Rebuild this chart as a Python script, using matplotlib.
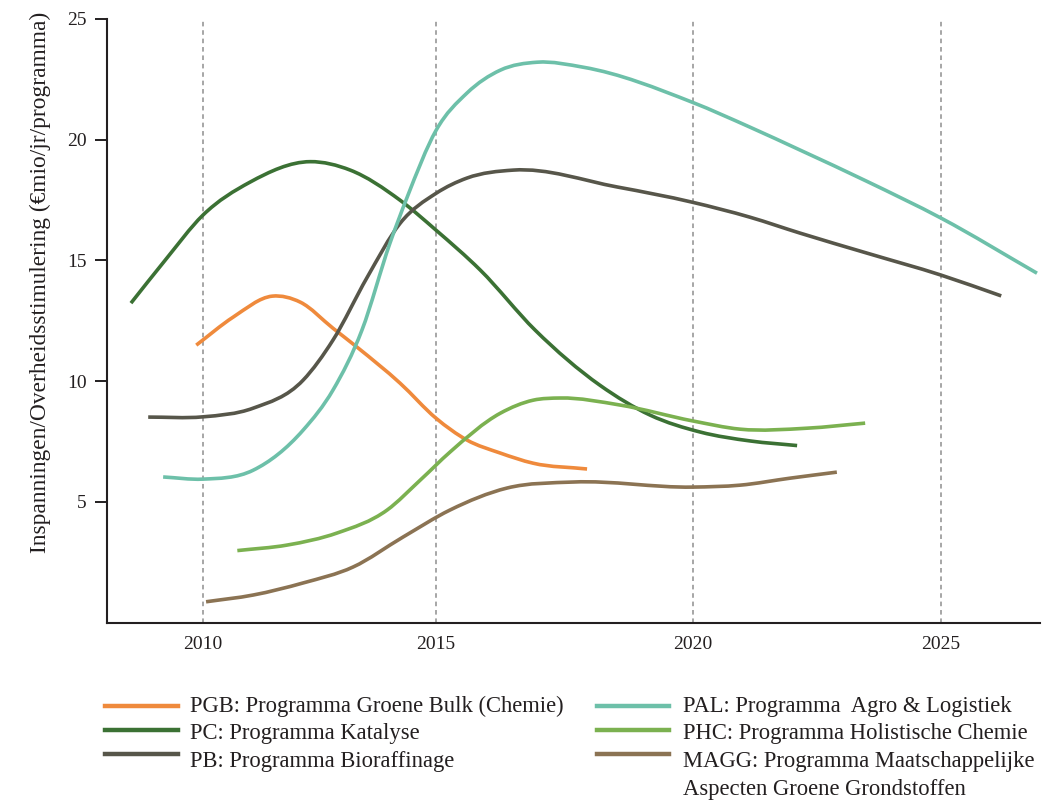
import numpy as np
import matplotlib.pyplot as plt
from matplotlib.lines import Line2D
from matplotlib.path import Path
from matplotlib.patches import PathPatch

plt.rcParams['font.family'] = ['Liberation Serif', 'DejaVu Serif']

# -----------------------------
# series (year, €mio per year per programme)
# -----------------------------
pgb_year = [2009.86, 2010.65, 2011.49, 2012.09, 2012.79, 2013.31, 2014.23,
            2015.00, 2015.60, 2016.25, 2016.89, 2017.94]
pgb_val = [11.49, 12.65, 13.52, 13.27, 12.19, 11.40, 9.91,
           8.46, 7.56, 7.02, 6.60, 6.36]

pc_year = [2008.46, 2009.19, 2010.00, 2011.01, 2012.30, 2013.16, 2014.23,
           2015.00, 2015.86, 2016.93, 2018.19, 2019.17, 2020.15, 2021.16, 2022.10]
pc_val = [13.23, 15.00, 16.87, 18.24, 19.09, 18.74, 17.49,
          16.25, 14.60, 12.11, 9.83, 8.59, 7.89, 7.52, 7.33]

pb_year = [2008.83, 2010.00, 2011.08, 2012.15, 2012.79, 2013.52, 2014.23,
           2015.00, 2015.60, 2016.50, 2018.53, 2019.99, 2021.15, 2022.16,
           2023.51, 2025.00, 2026.21]
pb_val = [8.51, 8.52, 8.88, 10.04, 11.70, 14.29, 16.54,
          17.78, 18.41, 18.74, 18.04, 17.41, 16.79, 16.13,
          15.30, 14.39, 13.53]

pal_year = [2009.15, 2010.00, 2011.08, 2012.15, 2012.79, 2013.41, 2014.01,
            2014.38, 2015.00, 2015.60, 2016.25, 2016.97, 2017.87, 2019.99,
            2021.15, 2022.16, 2023.51, 2025.00, 2026.93]
pal_val = [6.03, 5.94, 6.31, 7.97, 9.63, 12.11, 15.71,
           17.62, 20.39, 21.93, 22.88, 23.21, 23.00, 21.55,
           20.52, 19.57, 18.27, 16.75, 14.47]

phc_year = [2010.74, 2011.81, 2012.88, 2013.95, 2014.66, 2015.27,
            2016.25, 2016.89, 2017.42, 2018.58, 2020.00, 2020.95, 2022.30, 2023.47]
phc_val = [2.98, 3.21, 3.71, 4.66, 5.90, 7.06,
           8.67, 9.21, 9.30, 9.01, 8.35, 8.01, 8.05, 8.26]

magg_year = [2010.07, 2011.08, 2012.15, 2013.22, 2014.29, 2015.27, 2016.38,
             2017.67, 2020.00, 2020.95, 2021.96, 2022.90]
magg_val = [0.86, 1.14, 1.64, 2.30, 3.54, 4.66, 5.57,
            5.82, 5.61, 5.69, 5.98, 6.23]

series = [
    ("PGB: Programma Groene Bulk (Chemie)", pgb_year, pgb_val, "#ef8a3c"),
    ("PC: Programma Katalyse", pc_year, pc_val, "#3b7134"),
    ("PB: Programma Bioraffinage", pb_year, pb_val, "#57564a"),
    ("PAL: Programma  Agro & Logistiek", pal_year, pal_val, "#6dc0a9"),
    ("PHC: Programma Holistische Chemie", phc_year, phc_val, "#7bb150"),
    ("MAGG: Programma Maatschappelijke", magg_year, magg_val, "#8b7353"),
]
magg_extra = "Aspecten Groene Grondstoffen"

x_ticks = [2010, 2015, 2020, 2025]
y_ticks = [5, 10, 15, 20, 25]

# the printed year axis is not evenly spaced; piecewise-linear scale
knot_years = np.array([2000, 2010, 2015, 2020, 2025, 2035])
knot_pos = np.array([-263.9, 202.7, 436.0, 692.7, 941.0, 1437.6])


def fwd(x):
    return np.interp(x, knot_years, knot_pos)


def inv(u):
    return np.interp(u, knot_pos, knot_years)


def smooth_path(xs, ys):
    # cubic Hermite through the points (three-point slopes), as Bezier segments
    u = fwd(np.asarray(xs, float))
    y = np.asarray(ys, float)
    h = np.diff(u)
    d = np.diff(y) / h
    m = np.empty_like(y)
    m[0], m[-1] = d[0], d[-1]
    m[1:-1] = (h[:-1] * d[1:] + h[1:] * d[:-1]) / (h[:-1] + h[1:])
    verts = [(xs[0], y[0])]
    codes = [Path.MOVETO]
    for i in range(len(h)):
        c1u, c1y = u[i] + h[i] / 3, y[i] + m[i] * h[i] / 3
        c2u, c2y = u[i + 1] - h[i] / 3, y[i + 1] - m[i + 1] * h[i] / 3
        verts += [(inv(c1u), c1y), (inv(c2u), c2y), (xs[i + 1], y[i + 1])]
        codes += [Path.CURVE4] * 3
    return Path(np.array(verts, float), codes)


fig = plt.figure(figsize=(10.51, 8.01), dpi=100)
ax = fig.add_axes([0.1015, 0.2228, 0.888, 0.7535])
ax.set_xscale('function', functions=(fwd, inv))

for x in x_ticks:
    ax.axvline(x, color="#8e8e8e", lw=1.1, ls=(0, (3, 2.5)), zorder=1)

for label, xs, ys, col in series:
    ax.add_patch(PathPatch(smooth_path(xs, ys), facecolor='none',
                           edgecolor=col, lw=2.6, capstyle='butt',
                           joinstyle='round', zorder=3))

ax.set_xlim(2007.94, 2026.99)
ax.set_ylim(0, 25)
ax.set_xticks(x_ticks)
ax.set_xticklabels([str(x) for x in x_ticks])
ax.set_yticks(y_ticks)
ax.minorticks_off()
ax.tick_params(axis='x', length=0, pad=10, labelsize=14, colors="#231f20")
ax.tick_params(axis='y', length=8.5, width=1.4, pad=6, labelsize=14,
               colors="#231f20")

for s in ['top', 'right']:
    ax.spines[s].set_visible(False)
for s in ['left', 'bottom']:
    ax.spines[s].set_linewidth(1.5)
    ax.spines[s].set_color("#231f20")

ax.set_ylabel("Inspanningen/Overheidsstimulering (€mio/jr/programma)",
              fontsize=16.8, color="#231f20")
ax.yaxis.set_label_coords(-0.0597, 0.563)

# legend, two columns drawn by hand
H = 801.0
W = 1051.0
handle_rows = [706, 730, 754]
text_rows = [712, 739.5, 767]
cols = [(105, 178, 190), (597, 669, 683)]
for i, (label, xs, ys, col) in enumerate(series):
    c = cols[i // 3]
    r = i % 3
    fig.add_artist(Line2D([c[0] / W, c[1] / W],
                          [1 - handle_rows[r] / H, 1 - handle_rows[r] / H],
                          transform=fig.transFigure, color=col, lw=3.2))
    fig.text(c[2] / W, 1 - text_rows[r] / H, label, fontsize=16.3,
             va='baseline', ha='left', color="#231f20")
fig.text(cols[1][2] / W, 1 - 794.5 / H, magg_extra, fontsize=16.3,
         va='baseline', ha='left', color="#231f20")

plt.savefig("out.png", dpi=100)
